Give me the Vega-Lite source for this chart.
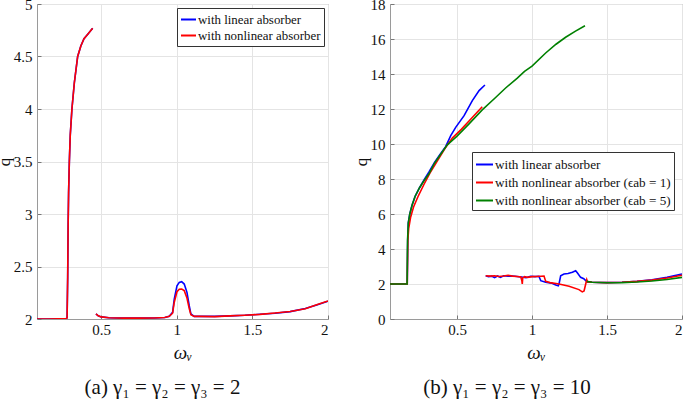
{
  "$schema": "https://vega.github.io/schema/vega-lite/v6.json",
  "background": "white",
  "padding": {"left": -6, "top": -4, "right": 0, "bottom": 0},
  "spacing": 22,
  "config": {
    "font": "Liberation Serif, Times New Roman, serif",
    "view": {"stroke": "#9a9a9a", "strokeWidth": 1},
    "style": {
      "guide-label": {"font": "Liberation Serif, Times New Roman, serif"},
      "guide-title": {"font": "Liberation Serif, Times New Roman, serif"}
    },
    "axis": {
      "grid": true,
      "gridColor": "#e4e4e4",
      "domainColor": "#9a9a9a",
      "tickColor": "#777777",
      "tickSize": -4,
      "labelFont": "Liberation Serif, Times New Roman, serif",
      "labelFontSize": 15,
      "labelColor": "#111111",
      "titleFont": "Liberation Serif, Times New Roman, serif",
      "titleFontSize": 17,
      "titleFontWeight": "normal",
      "titleColor": "#111111",
      "labelPadding": 9
    },
    "legend": {
      "title": null,
      "strokeColor": "#333333",
      "fillColor": "white",
      "padding": 3,
      "labelFont": "Liberation Serif, Times New Roman, serif",
      "labelFontSize": 12.9,
      "labelColor": "#111111",
      "labelLimit": 400,
      "symbolType": "stroke",
      "symbolSize": 225,
      "symbolStrokeWidth": 2,
      "rowPadding": 0,
      "labelOffset": 1,
      "cornerRadius": 0
    },
    "title": {"font": "Liberation Serif, Times New Roman, serif", "fontSize": 21, "fontWeight": "normal", "color": "#111111"}
  },
  "hconcat": [
    {
      "width": 291,
      "height": 315,
      "title": {"text": "(a) γ₁ = γ₂ = γ₃ = 2", "orient": "bottom", "offset": 15, "dx": -20},
      "data": {"values": [
        {"x":0.075,"q":2.0,"s":"with linear absorber","g":1},
        {"x":0.15,"q":2.0,"s":"with linear absorber","g":1},
        {"x":0.22,"q":2.002,"s":"with linear absorber","g":1},
        {"x":0.268,"q":2.004,"s":"with linear absorber","g":1},
        {"x":0.274,"q":2.01,"s":"with linear absorber","g":1},
        {"x":0.278,"q":2.4,"s":"with linear absorber","g":1},
        {"x":0.281,"q":2.9,"s":"with linear absorber","g":1},
        {"x":0.284,"q":3.2,"s":"with linear absorber","g":1},
        {"x":0.289,"q":3.5,"s":"with linear absorber","g":1},
        {"x":0.295,"q":3.75,"s":"with linear absorber","g":1},
        {"x":0.306,"q":4.0,"s":"with linear absorber","g":1},
        {"x":0.322,"q":4.25,"s":"with linear absorber","g":1},
        {"x":0.344,"q":4.5,"s":"with linear absorber","g":1},
        {"x":0.365,"q":4.6,"s":"with linear absorber","g":1},
        {"x":0.386,"q":4.67,"s":"with linear absorber","g":1},
        {"x":0.415,"q":4.72,"s":"with linear absorber","g":1},
        {"x":0.443,"q":4.77,"s":"with linear absorber","g":1},
        {"x":0.465,"q":2.048,"s":"with linear absorber","g":2},
        {"x":0.48,"q":2.03,"s":"with linear absorber","g":2},
        {"x":0.5,"q":2.02,"s":"with linear absorber","g":2},
        {"x":0.55,"q":2.012,"s":"with linear absorber","g":2},
        {"x":0.65,"q":2.008,"s":"with linear absorber","g":2},
        {"x":0.75,"q":2.008,"s":"with linear absorber","g":2},
        {"x":0.85,"q":2.01,"s":"with linear absorber","g":2},
        {"x":0.92,"q":2.015,"s":"with linear absorber","g":2},
        {"x":0.95,"q":2.025,"s":"with linear absorber","g":2},
        {"x":0.972,"q":2.063,"s":"with linear absorber","g":2},
        {"x":0.983,"q":2.19,"s":"with linear absorber","g":2},
        {"x":1.001,"q":2.317,"s":"with linear absorber","g":2},
        {"x":1.016,"q":2.349,"s":"with linear absorber","g":2},
        {"x":1.032,"q":2.355,"s":"with linear absorber","g":2},
        {"x":1.049,"q":2.333,"s":"with linear absorber","g":2},
        {"x":1.067,"q":2.254,"s":"with linear absorber","g":2},
        {"x":1.082,"q":2.127,"s":"with linear absorber","g":2},
        {"x":1.093,"q":2.048,"s":"with linear absorber","g":2},
        {"x":1.115,"q":2.025,"s":"with linear absorber","g":2},
        {"x":1.15,"q":2.025,"s":"with linear absorber","g":2},
        {"x":1.25,"q":2.025,"s":"with linear absorber","g":2},
        {"x":1.35,"q":2.03,"s":"with linear absorber","g":2},
        {"x":1.45,"q":2.035,"s":"with linear absorber","g":2},
        {"x":1.55,"q":2.045,"s":"with linear absorber","g":2},
        {"x":1.65,"q":2.055,"s":"with linear absorber","g":2},
        {"x":1.75,"q":2.07,"s":"with linear absorber","g":2},
        {"x":1.85,"q":2.1,"s":"with linear absorber","g":2},
        {"x":1.93,"q":2.135,"s":"with linear absorber","g":2},
        {"x":2.0,"q":2.17,"s":"with linear absorber","g":2},
        {"x":0.075,"q":2.0,"s":"with nonlinear absorber","g":1},
        {"x":0.15,"q":2.0,"s":"with nonlinear absorber","g":1},
        {"x":0.22,"q":2.002,"s":"with nonlinear absorber","g":1},
        {"x":0.268,"q":2.004,"s":"with nonlinear absorber","g":1},
        {"x":0.274,"q":2.01,"s":"with nonlinear absorber","g":1},
        {"x":0.278,"q":2.4,"s":"with nonlinear absorber","g":1},
        {"x":0.281,"q":2.9,"s":"with nonlinear absorber","g":1},
        {"x":0.284,"q":3.2,"s":"with nonlinear absorber","g":1},
        {"x":0.289,"q":3.5,"s":"with nonlinear absorber","g":1},
        {"x":0.295,"q":3.75,"s":"with nonlinear absorber","g":1},
        {"x":0.306,"q":4.0,"s":"with nonlinear absorber","g":1},
        {"x":0.322,"q":4.25,"s":"with nonlinear absorber","g":1},
        {"x":0.344,"q":4.5,"s":"with nonlinear absorber","g":1},
        {"x":0.365,"q":4.6,"s":"with nonlinear absorber","g":1},
        {"x":0.386,"q":4.67,"s":"with nonlinear absorber","g":1},
        {"x":0.415,"q":4.72,"s":"with nonlinear absorber","g":1},
        {"x":0.443,"q":4.77,"s":"with nonlinear absorber","g":1},
        {"x":0.465,"q":2.048,"s":"with nonlinear absorber","g":2},
        {"x":0.48,"q":2.03,"s":"with nonlinear absorber","g":2},
        {"x":0.5,"q":2.02,"s":"with nonlinear absorber","g":2},
        {"x":0.55,"q":2.012,"s":"with nonlinear absorber","g":2},
        {"x":0.65,"q":2.008,"s":"with nonlinear absorber","g":2},
        {"x":0.75,"q":2.008,"s":"with nonlinear absorber","g":2},
        {"x":0.85,"q":2.01,"s":"with nonlinear absorber","g":2},
        {"x":0.92,"q":2.015,"s":"with nonlinear absorber","g":2},
        {"x":0.95,"q":2.025,"s":"with nonlinear absorber","g":2},
        {"x":0.972,"q":2.055,"s":"with nonlinear absorber","g":2},
        {"x":0.983,"q":2.16,"s":"with nonlinear absorber","g":2},
        {"x":1.001,"q":2.26,"s":"with nonlinear absorber","g":2},
        {"x":1.016,"q":2.283,"s":"with nonlinear absorber","g":2},
        {"x":1.032,"q":2.286,"s":"with nonlinear absorber","g":2},
        {"x":1.049,"q":2.27,"s":"with nonlinear absorber","g":2},
        {"x":1.067,"q":2.2,"s":"with nonlinear absorber","g":2},
        {"x":1.082,"q":2.1,"s":"with nonlinear absorber","g":2},
        {"x":1.093,"q":2.04,"s":"with nonlinear absorber","g":2},
        {"x":1.115,"q":2.025,"s":"with nonlinear absorber","g":2},
        {"x":1.15,"q":2.025,"s":"with nonlinear absorber","g":2},
        {"x":1.25,"q":2.023,"s":"with nonlinear absorber","g":2},
        {"x":1.35,"q":2.03,"s":"with nonlinear absorber","g":2},
        {"x":1.45,"q":2.036,"s":"with nonlinear absorber","g":2},
        {"x":1.55,"q":2.044,"s":"with nonlinear absorber","g":2},
        {"x":1.65,"q":2.057,"s":"with nonlinear absorber","g":2},
        {"x":1.75,"q":2.072,"s":"with nonlinear absorber","g":2},
        {"x":1.85,"q":2.098,"s":"with nonlinear absorber","g":2},
        {"x":1.93,"q":2.138,"s":"with nonlinear absorber","g":2},
        {"x":2.0,"q":2.172,"s":"with nonlinear absorber","g":2}
      ]},
      "encoding": {
        "x": {"field": "x", "type": "quantitative", "title": "ωᵥ",
              "scale": {"domain": [0.075, 2], "nice": false, "zero": false},
              "axis": {"values": [0.5, 1, 1.5, 2], "format": "~g", "labelPadding": 7, "titleFontStyle": "italic", "titleFontSize": 19, "titlePadding": 6, "labelFont": "Liberation Serif, Times New Roman, serif", "titleFont": "Liberation Serif, Times New Roman, serif"}},
        "y": {"field": "q", "type": "quantitative", "title": "q",
              "scale": {"domain": [2, 5], "nice": false, "zero": false},
              "axis": {"values": [2, 2.5, 3, 3.5, 4, 4.5, 5], "format": "~g", "titlePadding": 0, "labelFont": "Liberation Serif, Times New Roman, serif", "titleFont": "Liberation Serif, Times New Roman, serif"}},
        "color": {"field": "s", "type": "nominal",
                  "scale": {"domain": ["with linear absorber", "with nonlinear absorber"], "range": ["#0000ff", "#ff0000"]},
                  "legend": {"orient": "top-right", "offset": 4}},
        "detail": {"field": "g"}
      },
      "layer": [
        {"transform": [{"filter": "datum.s == 'with linear absorber'"}], "mark": {"type": "line", "strokeWidth": 1.6, "clip": true}},
        {"transform": [{"filter": "datum.s == 'with nonlinear absorber'"}], "mark": {"type": "line", "strokeWidth": 1.6, "clip": true}}
      ]
    },
    {
      "width": 292,
      "height": 315,
      "title": {"text": "(b) γ₁ = γ₂ = γ₃ = 10", "orient": "bottom", "offset": 15, "dx": -29},
      "data": {"values": [
        {"x":0.053,"q":2,"s":"with linear absorber","g":1},
        {"x":0.168,"q":2,"s":"with linear absorber","g":1},
        {"x":0.171,"q":4.5,"s":"with linear absorber","g":1},
        {"x":0.175,"q":5.5,"s":"with linear absorber","g":1},
        {"x":0.185,"q":6.0,"s":"with linear absorber","g":1},
        {"x":0.2,"q":6.5,"s":"with linear absorber","g":1},
        {"x":0.22,"q":7.0,"s":"with linear absorber","g":1},
        {"x":0.25,"q":7.5,"s":"with linear absorber","g":1},
        {"x":0.28,"q":7.95,"s":"with linear absorber","g":1},
        {"x":0.313,"q":8.4,"s":"with linear absorber","g":1},
        {"x":0.35,"q":8.95,"s":"with linear absorber","g":1},
        {"x":0.39,"q":9.45,"s":"with linear absorber","g":1},
        {"x":0.424,"q":9.85,"s":"with linear absorber","g":1},
        {"x":0.458,"q":10.48,"s":"with linear absorber","g":1},
        {"x":0.491,"q":10.95,"s":"with linear absorber","g":1},
        {"x":0.547,"q":11.62,"s":"with linear absorber","g":1},
        {"x":0.602,"q":12.48,"s":"with linear absorber","g":1},
        {"x":0.647,"q":13.05,"s":"with linear absorber","g":1},
        {"x":0.686,"q":13.37,"s":"with linear absorber","g":1},
        {"x":0.691,"q":2.47,"s":"with linear absorber","g":2},
        {"x":0.71,"q":2.42,"s":"with linear absorber","g":2},
        {"x":0.73,"q":2.45,"s":"with linear absorber","g":2},
        {"x":0.75,"q":2.36,"s":"with linear absorber","g":2},
        {"x":0.77,"q":2.46,"s":"with linear absorber","g":2},
        {"x":0.79,"q":2.38,"s":"with linear absorber","g":2},
        {"x":0.81,"q":2.47,"s":"with linear absorber","g":2},
        {"x":0.84,"q":2.44,"s":"with linear absorber","g":2},
        {"x":0.87,"q":2.46,"s":"with linear absorber","g":2},
        {"x":0.9,"q":2.43,"s":"with linear absorber","g":2},
        {"x":0.93,"q":2.4,"s":"with linear absorber","g":2},
        {"x":0.96,"q":2.36,"s":"with linear absorber","g":2},
        {"x":0.99,"q":2.44,"s":"with linear absorber","g":2},
        {"x":1.02,"q":2.42,"s":"with linear absorber","g":2},
        {"x":1.046,"q":2.44,"s":"with linear absorber","g":2},
        {"x":1.058,"q":2.19,"s":"with linear absorber","g":2},
        {"x":1.091,"q":2.1,"s":"with linear absorber","g":2},
        {"x":1.13,"q":2.05,"s":"with linear absorber","g":2},
        {"x":1.158,"q":1.94,"s":"with linear absorber","g":2},
        {"x":1.175,"q":1.9,"s":"with linear absorber","g":2},
        {"x":1.18,"q":2.0,"s":"with linear absorber","g":2},
        {"x":1.191,"q":2.47,"s":"with linear absorber","g":2},
        {"x":1.213,"q":2.57,"s":"with linear absorber","g":2},
        {"x":1.24,"q":2.6,"s":"with linear absorber","g":2},
        {"x":1.269,"q":2.67,"s":"with linear absorber","g":2},
        {"x":1.291,"q":2.76,"s":"with linear absorber","g":2},
        {"x":1.302,"q":2.64,"s":"with linear absorber","g":2},
        {"x":1.324,"q":2.38,"s":"with linear absorber","g":2},
        {"x":1.345,"q":2.3,"s":"with linear absorber","g":2},
        {"x":1.358,"q":2.19,"s":"with linear absorber","g":2},
        {"x":1.369,"q":2.12,"s":"with linear absorber","g":2},
        {"x":1.4,"q":2.1,"s":"with linear absorber","g":2},
        {"x":1.5,"q":2.08,"s":"with linear absorber","g":2},
        {"x":1.6,"q":2.1,"s":"with linear absorber","g":2},
        {"x":1.7,"q":2.15,"s":"with linear absorber","g":2},
        {"x":1.8,"q":2.24,"s":"with linear absorber","g":2},
        {"x":1.9,"q":2.38,"s":"with linear absorber","g":2},
        {"x":2.0,"q":2.57,"s":"with linear absorber","g":2},
        {"x":0.053,"q":2,"s":"with nonlinear absorber (ϵab = 1)","g":1},
        {"x":0.168,"q":2,"s":"with nonlinear absorber (ϵab = 1)","g":1},
        {"x":0.172,"q":4.5,"s":"with nonlinear absorber (ϵab = 1)","g":1},
        {"x":0.178,"q":5.2,"s":"with nonlinear absorber (ϵab = 1)","g":1},
        {"x":0.19,"q":5.8,"s":"with nonlinear absorber (ϵab = 1)","g":1},
        {"x":0.21,"q":6.4,"s":"with nonlinear absorber (ϵab = 1)","g":1},
        {"x":0.24,"q":7.0,"s":"with nonlinear absorber (ϵab = 1)","g":1},
        {"x":0.28,"q":7.7,"s":"with nonlinear absorber (ϵab = 1)","g":1},
        {"x":0.32,"q":8.35,"s":"with nonlinear absorber (ϵab = 1)","g":1},
        {"x":0.37,"q":9.05,"s":"with nonlinear absorber (ϵab = 1)","g":1},
        {"x":0.42,"q":9.75,"s":"with nonlinear absorber (ϵab = 1)","g":1},
        {"x":0.47,"q":10.35,"s":"with nonlinear absorber (ϵab = 1)","g":1},
        {"x":0.53,"q":10.85,"s":"with nonlinear absorber (ϵab = 1)","g":1},
        {"x":0.6,"q":11.5,"s":"with nonlinear absorber (ϵab = 1)","g":1},
        {"x":0.668,"q":12.13,"s":"with nonlinear absorber (ϵab = 1)","g":1},
        {"x":0.691,"q":2.47,"s":"with nonlinear absorber (ϵab = 1)","g":2},
        {"x":0.72,"q":2.45,"s":"with nonlinear absorber (ϵab = 1)","g":2},
        {"x":0.75,"q":2.47,"s":"with nonlinear absorber (ϵab = 1)","g":2},
        {"x":0.78,"q":2.43,"s":"with nonlinear absorber (ϵab = 1)","g":2},
        {"x":0.81,"q":2.46,"s":"with nonlinear absorber (ϵab = 1)","g":2},
        {"x":0.84,"q":2.5,"s":"with nonlinear absorber (ϵab = 1)","g":2},
        {"x":0.87,"q":2.45,"s":"with nonlinear absorber (ϵab = 1)","g":2},
        {"x":0.9,"q":2.43,"s":"with nonlinear absorber (ϵab = 1)","g":2},
        {"x":0.925,"q":2.4,"s":"with nonlinear absorber (ϵab = 1)","g":2},
        {"x":0.932,"q":2.2,"s":"with nonlinear absorber (ϵab = 1)","g":2},
        {"x":0.935,"q":2.0,"s":"with nonlinear absorber (ϵab = 1)","g":2},
        {"x":0.938,"q":2.35,"s":"with nonlinear absorber (ϵab = 1)","g":2},
        {"x":0.95,"q":2.42,"s":"with nonlinear absorber (ϵab = 1)","g":2},
        {"x":0.97,"q":2.38,"s":"with nonlinear absorber (ϵab = 1)","g":2},
        {"x":1.0,"q":2.42,"s":"with nonlinear absorber (ϵab = 1)","g":2},
        {"x":1.03,"q":2.43,"s":"with nonlinear absorber (ϵab = 1)","g":2},
        {"x":1.06,"q":2.44,"s":"with nonlinear absorber (ϵab = 1)","g":2},
        {"x":1.08,"q":2.45,"s":"with nonlinear absorber (ϵab = 1)","g":2},
        {"x":1.091,"q":2.15,"s":"with nonlinear absorber (ϵab = 1)","g":2},
        {"x":1.12,"q":2.08,"s":"with nonlinear absorber (ϵab = 1)","g":2},
        {"x":1.18,"q":2.0,"s":"with nonlinear absorber (ϵab = 1)","g":2},
        {"x":1.247,"q":1.87,"s":"with nonlinear absorber (ϵab = 1)","g":2},
        {"x":1.313,"q":1.68,"s":"with nonlinear absorber (ϵab = 1)","g":2},
        {"x":1.335,"q":1.55,"s":"with nonlinear absorber (ϵab = 1)","g":2},
        {"x":1.347,"q":1.6,"s":"with nonlinear absorber (ϵab = 1)","g":2},
        {"x":1.358,"q":2.0,"s":"with nonlinear absorber (ϵab = 1)","g":2},
        {"x":1.365,"q":2.25,"s":"with nonlinear absorber (ϵab = 1)","g":2},
        {"x":1.37,"q":2.12,"s":"with nonlinear absorber (ϵab = 1)","g":2},
        {"x":1.4,"q":2.1,"s":"with nonlinear absorber (ϵab = 1)","g":2},
        {"x":1.5,"q":2.08,"s":"with nonlinear absorber (ϵab = 1)","g":2},
        {"x":1.6,"q":2.1,"s":"with nonlinear absorber (ϵab = 1)","g":2},
        {"x":1.7,"q":2.15,"s":"with nonlinear absorber (ϵab = 1)","g":2},
        {"x":1.8,"q":2.22,"s":"with nonlinear absorber (ϵab = 1)","g":2},
        {"x":1.9,"q":2.34,"s":"with nonlinear absorber (ϵab = 1)","g":2},
        {"x":2.0,"q":2.5,"s":"with nonlinear absorber (ϵab = 1)","g":2},
        {"x":0.053,"q":2,"s":"with nonlinear absorber (ϵab = 5)","g":1},
        {"x":0.167,"q":2,"s":"with nonlinear absorber (ϵab = 5)","g":1},
        {"x":0.17,"q":4.5,"s":"with nonlinear absorber (ϵab = 5)","g":1},
        {"x":0.175,"q":5.5,"s":"with nonlinear absorber (ϵab = 5)","g":1},
        {"x":0.185,"q":6.0,"s":"with nonlinear absorber (ϵab = 5)","g":1},
        {"x":0.2,"q":6.5,"s":"with nonlinear absorber (ϵab = 5)","g":1},
        {"x":0.22,"q":7.0,"s":"with nonlinear absorber (ϵab = 5)","g":1},
        {"x":0.25,"q":7.5,"s":"with nonlinear absorber (ϵab = 5)","g":1},
        {"x":0.28,"q":7.9,"s":"with nonlinear absorber (ϵab = 5)","g":1},
        {"x":0.313,"q":8.3,"s":"with nonlinear absorber (ϵab = 5)","g":1},
        {"x":0.35,"q":8.9,"s":"with nonlinear absorber (ϵab = 5)","g":1},
        {"x":0.39,"q":9.4,"s":"with nonlinear absorber (ϵab = 5)","g":1},
        {"x":0.435,"q":9.95,"s":"with nonlinear absorber (ϵab = 5)","g":1},
        {"x":0.5,"q":10.45,"s":"with nonlinear absorber (ϵab = 5)","g":1},
        {"x":0.58,"q":11.15,"s":"with nonlinear absorber (ϵab = 5)","g":1},
        {"x":0.668,"q":11.95,"s":"with nonlinear absorber (ϵab = 5)","g":1},
        {"x":0.75,"q":12.6,"s":"with nonlinear absorber (ϵab = 5)","g":1},
        {"x":0.824,"q":13.2,"s":"with nonlinear absorber (ϵab = 5)","g":1},
        {"x":0.9,"q":13.75,"s":"with nonlinear absorber (ϵab = 5)","g":1},
        {"x":0.95,"q":14.15,"s":"with nonlinear absorber (ϵab = 5)","g":1},
        {"x":1.0,"q":14.45,"s":"with nonlinear absorber (ϵab = 5)","g":1},
        {"x":1.091,"q":15.2,"s":"with nonlinear absorber (ϵab = 5)","g":1},
        {"x":1.16,"q":15.7,"s":"with nonlinear absorber (ϵab = 5)","g":1},
        {"x":1.224,"q":16.1,"s":"with nonlinear absorber (ϵab = 5)","g":1},
        {"x":1.29,"q":16.45,"s":"with nonlinear absorber (ϵab = 5)","g":1},
        {"x":1.353,"q":16.76,"s":"with nonlinear absorber (ϵab = 5)","g":1},
        {"x":1.365,"q":2.15,"s":"with nonlinear absorber (ϵab = 5)","g":2},
        {"x":1.4,"q":2.1,"s":"with nonlinear absorber (ϵab = 5)","g":2},
        {"x":1.5,"q":2.07,"s":"with nonlinear absorber (ϵab = 5)","g":2},
        {"x":1.6,"q":2.08,"s":"with nonlinear absorber (ϵab = 5)","g":2},
        {"x":1.7,"q":2.11,"s":"with nonlinear absorber (ϵab = 5)","g":2},
        {"x":1.8,"q":2.17,"s":"with nonlinear absorber (ϵab = 5)","g":2},
        {"x":1.9,"q":2.26,"s":"with nonlinear absorber (ϵab = 5)","g":2},
        {"x":2.0,"q":2.38,"s":"with nonlinear absorber (ϵab = 5)","g":2}
      ]},
      "encoding": {
        "x": {"field": "x", "type": "quantitative", "title": "ωᵥ",
              "scale": {"domain": [0.053, 2], "nice": false, "zero": false},
              "axis": {"values": [0.5, 1, 1.5, 2], "format": "~g", "labelPadding": 7, "titleFontStyle": "italic", "titleFontSize": 19, "titlePadding": 6, "labelFont": "Liberation Serif, Times New Roman, serif", "titleFont": "Liberation Serif, Times New Roman, serif"}},
        "y": {"field": "q", "type": "quantitative", "title": "q",
              "scale": {"domain": [0, 18], "nice": false},
              "axis": {"values": [0, 2, 4, 6, 8, 10, 12, 14, 16, 18], "format": "~g", "titlePadding": 0, "labelFont": "Liberation Serif, Times New Roman, serif", "titleFont": "Liberation Serif, Times New Roman, serif"}},
        "color": {"field": "s", "type": "nominal",
                  "scale": {"domain": ["with linear absorber", "with nonlinear absorber (ϵab = 1)", "with nonlinear absorber (ϵab = 5)"], "range": ["#0000ff", "#ff0000", "#008000"]},
                  "legend": {"orient": "none", "legendX": 82, "legendY": 148, "rowPadding": 2, "symbolSize": 289, "labelFontSize": 13.2}},
        "detail": {"field": "g"}
      },
      "layer": [
        {"transform": [{"filter": "datum.s == 'with linear absorber'"}], "mark": {"type": "line", "strokeWidth": 1.6, "clip": true}},
        {"transform": [{"filter": "datum.s == 'with nonlinear absorber (ϵab = 1)'"}], "mark": {"type": "line", "strokeWidth": 1.6, "clip": true}},
        {"transform": [{"filter": "datum.s == 'with nonlinear absorber (ϵab = 5)'"}], "mark": {"type": "line", "strokeWidth": 1.6, "clip": true}}
      ]
    }
  ],
  "resolve": {"scale": {"color": "independent", "x": "independent", "y": "independent"}, "legend": {"color": "independent"}}
}
